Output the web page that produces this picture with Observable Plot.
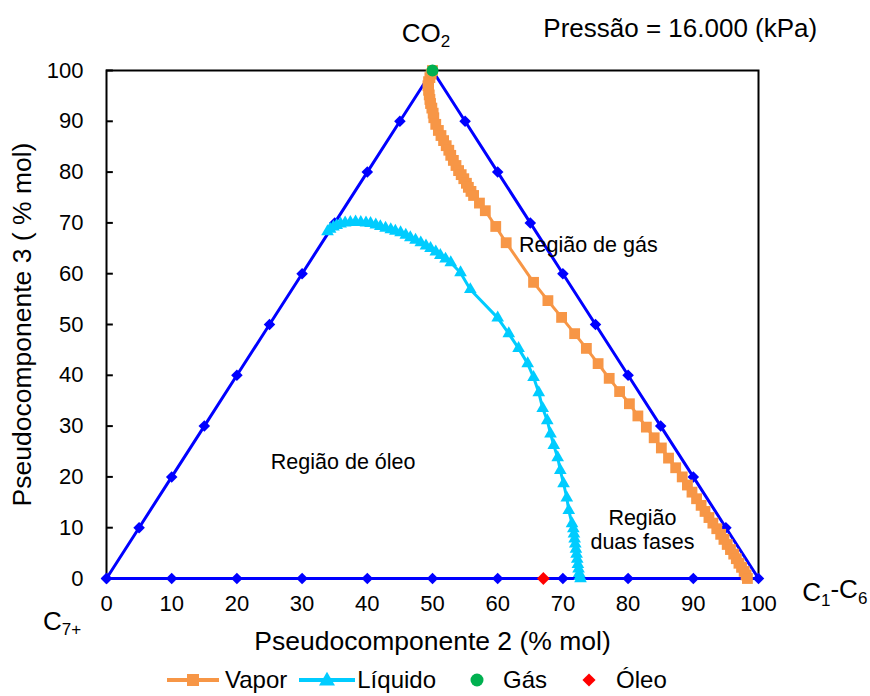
<!DOCTYPE html>
<html>
<head>
<meta charset="utf-8">
<script src="https://cdn.jsdelivr.net/npm/d3@7"></script>
<script src="https://cdn.jsdelivr.net/npm/@observablehq/plot@0.6"></script>
<style>
  html, body { margin: 0; padding: 0; background: white; }
  #chart { width: 870px; }
  #legend { display: flex; justify-content: flex-start; align-items: center; height: 32px; padding-left: 167px;
    font-family: "Liberation Sans", Arial, sans-serif; font-size: 24px; color: #000; }
  #legend .item { display: flex; align-items: center; }
  #legend svg { display: block; }
</style>
</head>
<body>
<div id="chart"></div>
<div id="legend"></div>
<script>
const fontFamily = '"Liberation Sans", Arial, sans-serif';

// Triangle edges (left edge, right edge, base)
const triX = [0,5,10,15,20,25,30,35,40,45,50,55,60,65,70,75,80,85,90,95,100,90,80,70,60,50,40,30,20,10,0];
const triY = [0,10,20,30,40,50,60,70,80,90,100,90,80,70,60,50,40,30,20,10,0,0,0,0,0,0,0,0,0,0,0];

// Vapor curve
const vaporX = [50,49.8,49.6,49.4,49.3,49.4,49.5,49.6,49.7,49.9,50.1,50.2,50.5,50.9,51.3,51.7,52.1,52.5,52.8,53.2,53.6,54.0,54.4,54.8,55.2,55.5,55.9,56.3,57.2,58.1,59.7,61.3,65.5,67.7,69.8,71.8,73.6,75.4,77.1,78.7,80.2,81.5,82.8,84.0,85.1,86.2,87.3,88.3,89.1,89.8,90.5,91.2,91.8,92.4,93.0,93.6,94.2,94.7,95.2,95.7,96.2,96.6,97.0,97.4,97.8,98.1,98.3];
const vaporY = [100,99.3,98.6,97.8,97.0,96.1,95.2,94.3,93.5,92.6,91.6,90.7,89.4,88.2,87.2,86.2,85.2,84.3,83.3,82.3,81.3,80.3,79.5,78.7,77.8,77.0,76.2,75.4,73.9,72.4,69.3,66.1,58.3,54.7,51.4,48.2,45.3,42.3,39.4,36.8,34.4,32.0,29.8,27.7,25.7,23.7,21.8,20.0,18.4,17.0,15.7,14.4,13.2,12.0,10.9,9.8,8.7,7.7,6.7,5.7,4.8,3.9,3.0,2.2,1.4,0.7,0];

// Liquid curve
const liquidX = [33.9,34.3,34.8,35.3,35.9,36.6,37.4,38.2,39.0,39.8,40.5,41.3,42.0,42.8,43.6,44.3,45.1,45.9,46.6,47.4,48.2,49.0,49.7,50.5,51.2,52.0,52.8,54.3,55.8,60.0,61.7,63.2,64.6,65.5,66.3,66.9,67.6,68.1,68.6,69.2,69.6,70.1,70.6,70.9,71.4,71.6,71.7,71.8,71.9,72.0,72.1,72.2,72.3,72.4,72.5,72.6,72.7];
const liquidY = [68.3,68.8,69.2,69.5,69.8,70.0,70.1,70.2,70.1,70.0,69.9,69.6,69.3,69.0,68.7,68.4,68.1,67.6,67.1,66.6,66.1,65.5,65.0,64.3,63.6,62.9,62.2,60.2,56.9,51.3,48.2,45.3,42.3,39.6,36.6,33.5,31.1,28.5,26.2,23.8,21.3,18.7,15.9,13.4,10.8,9.8,8.8,7.8,6.8,5.8,4.8,3.8,2.8,1.9,1.0,0.4,0];

// Single points
const gasX = [50], gasY = [100];
const oilX = [67], oilY = [0];

// Ticks
const xTicks = [0,10,20,30,40,50,60,70,80,90,100];
const yTicks = [0,10,20,30,40,50,60,70,80,90,100];

// Labels
const xTitle = "Pseudocomponente 2 (% mol)";
const yTitle = "Pseudocomponente 3 ( % mol)";
const outerText = ["CO2", "Pressão = 16.000 (kPa)", "C1-C6", "C7+"];
const outerX = [49.0, 88.0, 111.7, -6.8];
const outerY = [107.3, 108.3, -2.8, -8.5];
const innerText = ["Região de gás", "Região de óleo", "Região\nduas fases"];
const innerX = [73.9, 36.3, 82.2];
const innerY = [65.7, 23.0, 9.6];

const legendNames = ["Vapor", "Líquido", "Gás", "Óleo"];

const colors = { tri: "#0000FF", vapor: "#F79646", liquid: "#00CCFF", gas: "#00B050", oil: "#FF0000" };

const zip = (xs, ys) => xs.map((x, i) => ({x, y: ys[i]}));
const tri = zip(triX, triY);
const vapor = zip(vaporX, vaporY);
const liquid = zip(liquidX, liquidY);
const gas = zip(gasX, gasY);
const oil = zip(oilX, oilY);
const outer = outerText.map((t, i) => ({text: t, x: outerX[i], y: outerY[i]}));
const inner = innerText.map((t, i) => ({text: t, x: innerX[i], y: innerY[i]}));

const plot = Plot.plot({
  width: 870,
  height: 664,
  marginLeft: 106,
  marginRight: 112,
  marginTop: 70,
  marginBottom: 86,
  x: {domain: [0, 100], label: null},
  y: {domain: [0, 100], label: null},
  style: {fontFamily, fontSize: "22px", background: "white", color: "black", overflow: "visible"},
  marks: [
    Plot.frame({stroke: "black", strokeWidth: 2}),
    Plot.axisX({ticks: xTicks, tickSize: 0, tickPadding: 17, fontSize: 22, label: null}),
    Plot.axisY({ticks: yTicks, tickSize: 0, tickPadding: 23, fontSize: 22, label: null}),
    Plot.ruleY(yTicks, {y: d => d, x1: 0, x2: 1.05, stroke: "black", strokeWidth: 2}),
    Plot.line(tri, {x: "x", y: "y", stroke: colors.tri, strokeWidth: 3}),
    Plot.dot(tri, {x: "x", y: "y", symbol: "diamond2", r: 5.2, fill: colors.tri}),
    Plot.line(vapor, {x: "x", y: "y", stroke: colors.vapor, strokeWidth: 3}),
    Plot.dot(vapor, {x: "x", y: "y", symbol: "square", r: 6.1, fill: colors.vapor}),
    Plot.line(liquid, {x: "x", y: "y", stroke: colors.liquid, strokeWidth: 3}),
    Plot.dot(liquid, {x: "x", y: "y", symbol: "triangle", r: 4.7, fill: colors.liquid}),
    Plot.dot(gas, {x: "x", y: "y", r: 6, fill: colors.gas}),
    Plot.dot(oil, {x: "x", y: "y", symbol: "diamond2", r: 5.8, fill: colors.oil}),
    Plot.text(inner, {x: "x", y: "y", text: "text", fontSize: 21.5, lineAnchor: "middle", lineHeight: 1.1}),
    Plot.text(outer, {x: "x", y: "y", text: "text", fontSize: 26, lineAnchor: "middle"}),
    Plot.text([xTitle], {frameAnchor: "bottom", dy: 63, text: d => d, fontSize: 26.5, lineAnchor: "middle", textAnchor: "middle"}),
    Plot.text([yTitle], {frameAnchor: "left", dx: -84, rotate: -90, text: d => d, fontSize: 26.5, lineAnchor: "middle", textAnchor: "middle"})
  ]
});
document.getElementById("chart").appendChild(plot);

// Subscripts
const subs = {
  "CO2": [["CO", false], ["2", true]],
  "C1-C6": [["C", false], ["1", true], ["-C", false], ["6", true]],
  "C7+": [["C", false], ["7+", true]]
};
d3.select(plot).selectAll("text").each(function() {
  const t = this.textContent;
  if (subs[t]) {
    const el = d3.select(this);
    el.text(null);
    let shifted = false;
    for (const [s, sub] of subs[t]) {
      const ts = el.append("tspan").text(s);
      if (sub && !shifted) { ts.attr("dy", "0.32em").attr("font-size", "17px"); shifted = true; }
      else if (sub) { ts.attr("font-size", "17px"); }
      else if (!sub && shifted) { ts.attr("dy", "-0.32em"); shifted = false; }
    }
  }
});

// Legend
const legend = d3.select("#legend");
function addItem(name, drawFn, w, gapText, gapAfter) {
  const it = legend.append("div").attr("class", "item").style("margin-right", gapAfter + "px");
  const s = it.append("svg").attr("width", w).attr("height", 22);
  drawFn(s, w);
  it.append("span").text(name).style("margin-left", gapText + "px");
}
addItem(legendNames[0], (s, w) => {
  s.append("line").attr("x1", 0).attr("x2", w).attr("y1", 11).attr("y2", 11).attr("stroke", colors.vapor).attr("stroke-width", 4);
  s.append("rect").attr("x", w/2 - 6).attr("y", 5).attr("width", 12).attr("height", 12).attr("fill", colors.vapor);
}, 52, 6, 12);
addItem(legendNames[1], (s, w) => {
  s.append("line").attr("x1", 0).attr("x2", w).attr("y1", 11).attr("y2", 11).attr("stroke", colors.liquid).attr("stroke-width", 4);
  s.append("path").attr("d", d3.symbol(d3.symbolTriangle, 110)()).attr("transform", `translate(${w/2},12)`).attr("fill", colors.liquid);
}, 56, 2, 21);
addItem(legendNames[2], (s, w) => {
  s.append("circle").attr("cx", w/2).attr("cy", 11).attr("r", 6.5).attr("fill", colors.gas);
}, 40, 6, 22);
addItem(legendNames[3], (s, w) => {
  s.append("path").attr("d", d3.symbol(d3.symbolDiamond2, 110)()).attr("transform", `translate(${w/2},11)`).attr("fill", colors.oil);
}, 40, 7, 0);
</script>
</body>
</html>
